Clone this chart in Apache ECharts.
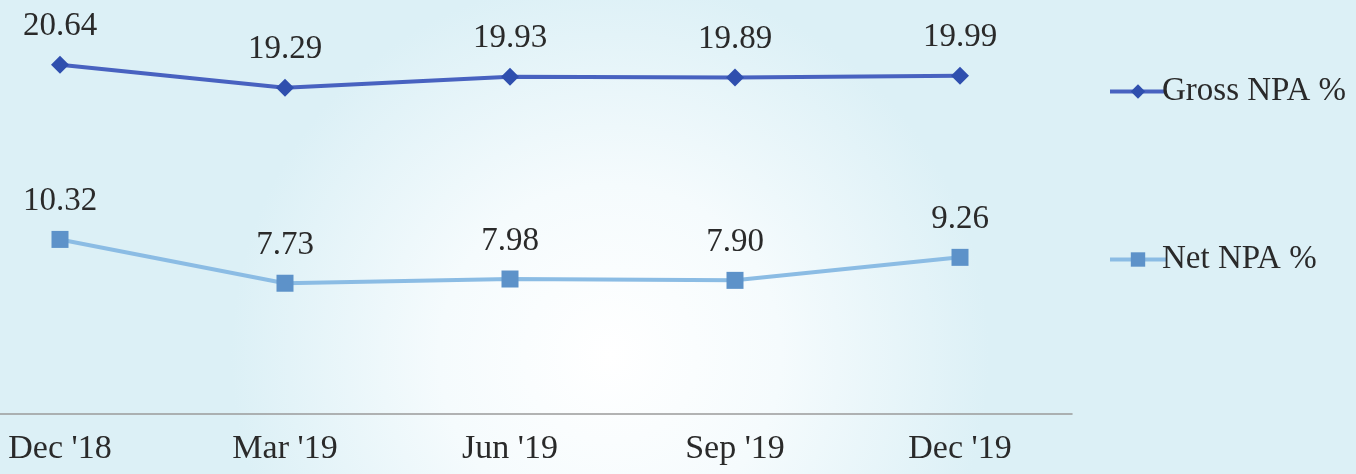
<!DOCTYPE html>
<html><head><meta charset="utf-8">
<script src="https://cdn.jsdelivr.net/npm/echarts@6/dist/echarts.min.js"></script>
<style>html,body{margin:0;padding:0;}#c{width:1356px;height:474px;}</style>
</head><body><div id="c"></div>
<script>
const categories = ["Dec '18", "Mar '19", "Jun '19", "Sep '19", "Dec '19"];
const grossNPA = [20.64, 19.29, 19.93, 19.89, 19.99];
const netNPA = [10.32, 7.73, 7.98, 7.90, 9.26];

const chart = echarts.init(document.getElementById('c'));
const font = "'Liberation Serif', 'Times New Roman', serif";
const labelStyle = {show: true, position: 'top', distance: 13, fontFamily: font, fontSize: 33, color: '#2a2a2a',
  formatter: p => p.value.toFixed(2)};
chart.setOption({
  backgroundColor: {
    type: 'radial', x: 0.45, y: 0.75, r: 0.8,
    colorStops: [{offset: 0, color: '#ffffff'}, {offset: 0.45, color: '#f5fbfd'}, {offset: 1, color: '#dcf0f6'}]
  },
  animation: false,
  grid: [
    {left: 60, width: 900, top: 8, bottom: 60},
    {left: 0, width: 1072, top: 8, bottom: 60}
  ],
  xAxis: [
    {type: 'category', data: categories, boundaryGap: false, gridIndex: 0,
     axisLine: {show: false}, axisTick: {show: false},
     axisLabel: {color: '#2a2a2a', fontFamily: font, fontSize: 34, margin: 18, interval: 0}},
    {type: 'value', gridIndex: 1, min: 0, max: 1, axisLabel: {show: false}, axisTick: {show: false},
     splitLine: {show: false}, axisLine: {show: true, lineStyle: {color: '#9a9a9a', width: 1.5}}}
  ],
  yAxis: [
    {type: 'value', min: 0, max: 24, show: false, splitLine: {show: false}, gridIndex: 0},
    {type: 'value', min: 0, max: 24, show: false, splitLine: {show: false}, gridIndex: 1}
  ],
  legend: [
    {data: ['Gross NPA %'], left: 1103, top: 70, itemWidth: 56, itemHeight: 18, itemGap: 0,
     lineStyle: {width: 4}, textStyle: {fontFamily: font, fontSize: 33, color: '#2a2a2a', padding: [0,0,0,-9]}},
    {data: ['Net NPA %'], left: 1103, top: 238, itemWidth: 56, itemHeight: 18, itemGap: 0,
     lineStyle: {width: 4}, textStyle: {fontFamily: font, fontSize: 33, color: '#2a2a2a', padding: [0,0,0,-9]}}
  ],
  series: [
    {name: 'Gross NPA %', type: 'line', data: grossNPA, symbol: 'diamond', symbolSize: 18,
     lineStyle: {color: '#4862c0', width: 4}, itemStyle: {color: '#2f4fae'}, label: labelStyle},
    {name: 'Net NPA %', type: 'line', data: netNPA, symbol: 'rect', symbolSize: 17,
     lineStyle: {color: '#8bbce4', width: 4}, itemStyle: {color: '#5d92c9'}, label: labelStyle}
  ]
});
</script></body></html>
